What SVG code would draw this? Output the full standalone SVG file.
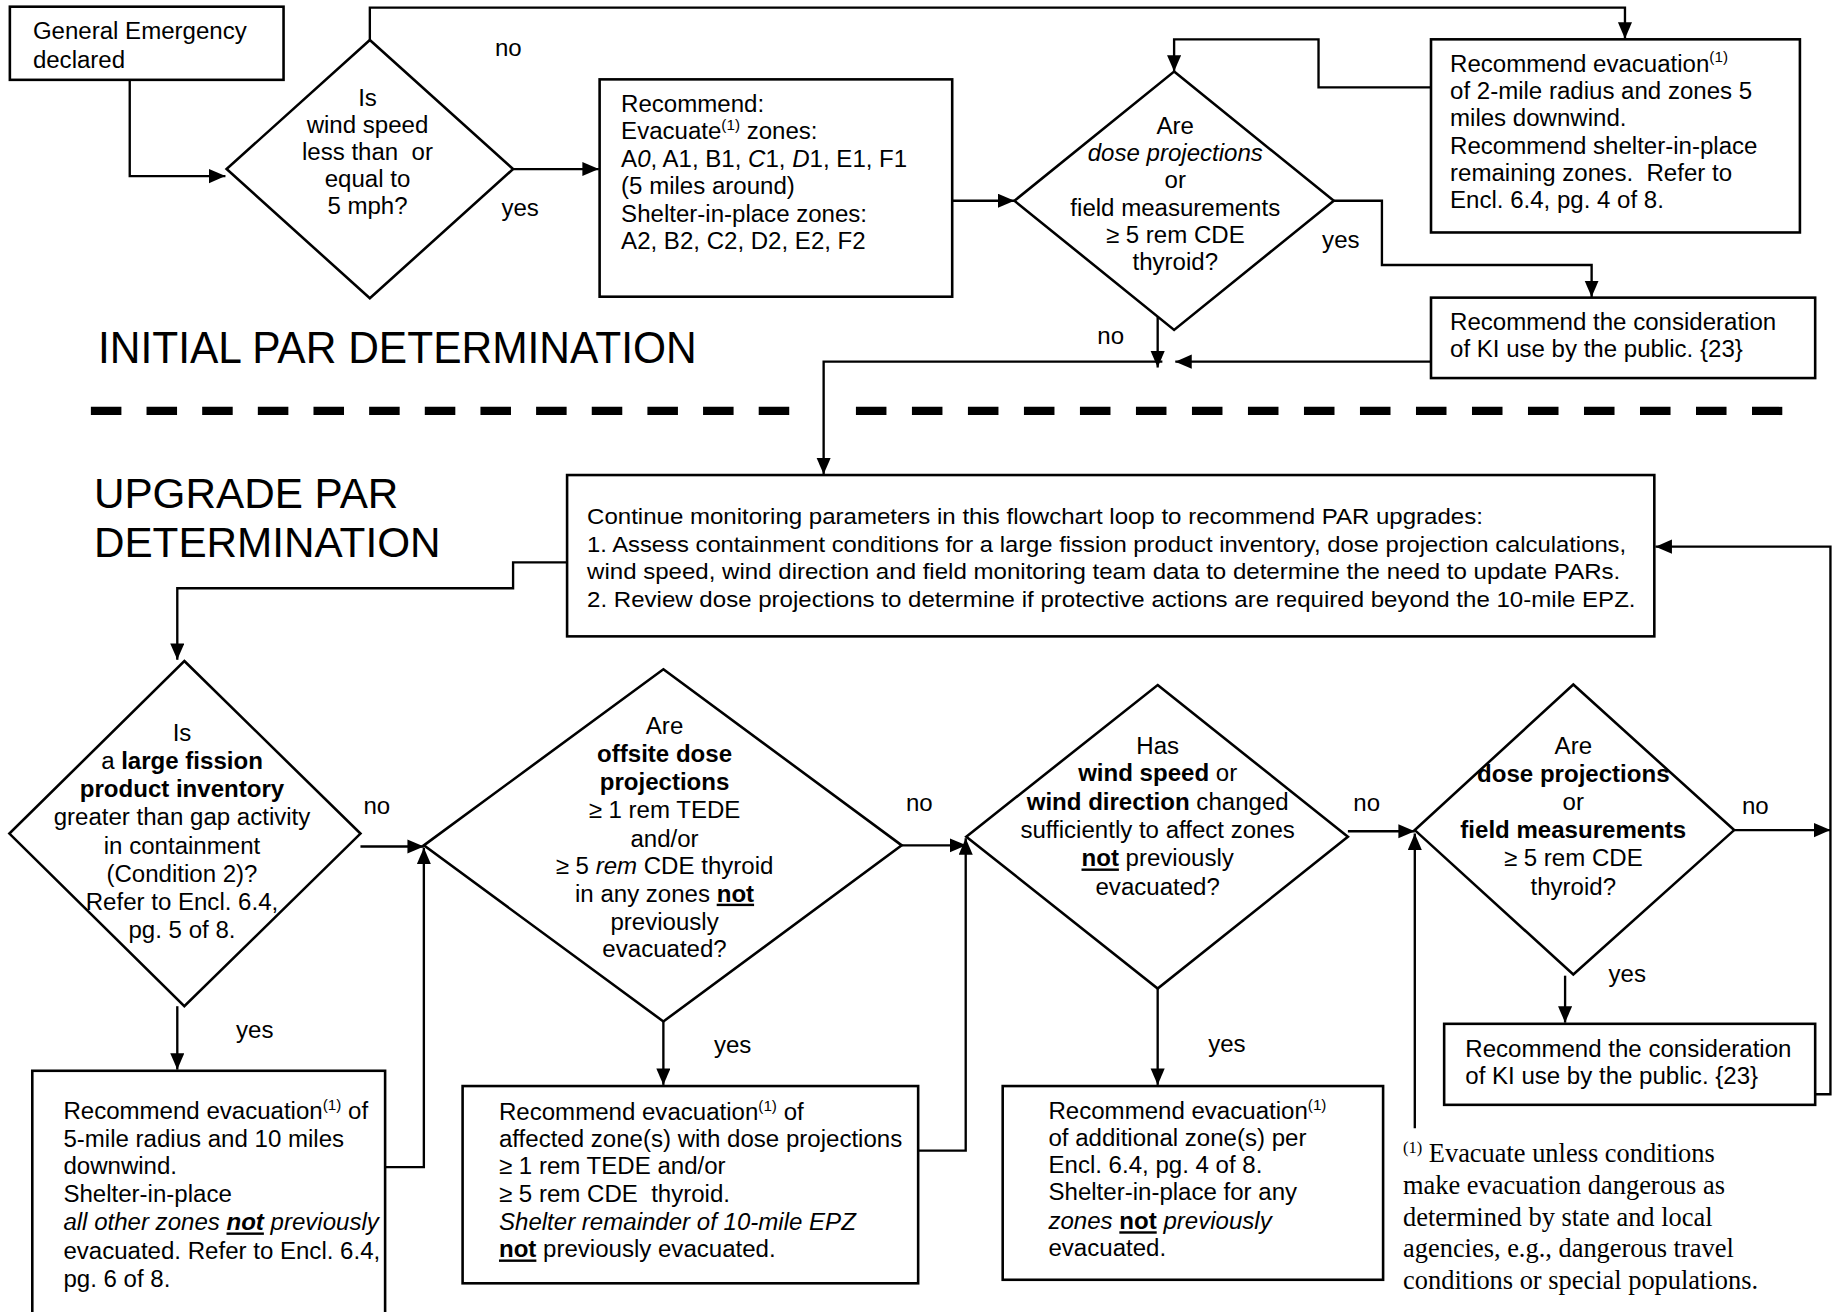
<svg xmlns="http://www.w3.org/2000/svg" width="1841" height="1312" viewBox="0 0 1841 1312">
<style>
text{font-family:"Liberation Sans",Arial,Helvetica,sans-serif;font-size:20.5px;fill:#000}
.h{font-size:36px}
.ct{font-size:18.5px}
.fn{font-family:"Liberation Serif","Times New Roman",serif;font-size:22.5px}
.m{text-anchor:middle}
.bx{fill:#fff;stroke:#000;stroke-width:2.2}
.cn{fill:none;stroke:#000;stroke-width:2;marker-end:url(#ar)}
.dash{fill:none;stroke:#000;stroke-width:7}
.b{font-weight:bold}
.i{font-style:italic}
.u{text-decoration:underline}
.sup{font-size:13px}
</style>
<defs>
<marker id="ar" markerUnits="userSpaceOnUse" markerWidth="16" markerHeight="14" refX="14" refY="6" orient="auto"><path d="M0,0 L14,6 L0,12 z" fill="#000"/></marker>
</defs>
<rect width="1841" height="1312" fill="#fff"/>
<g transform="scale(1.17411)">
<g id="connectors">
<path class="cn" d="M110.5,68 V150 H192"/>
<path class="cn" d="M315,34 V6.5 H1384 V33"/>
<path class="cn" d="M437,144 H510"/>
<path class="cn" d="M811,171 H864"/>
<path class="cn" d="M1219,74.4 H1123 V33.5 H1000 V61"/>
<path class="cn" d="M1136,171 H1177 V225.7 H1355.6 V253"/>
<path class="cn" d="M986,270 V313"/>
<path class="cn" d="M1219,308 H1001"/>
<path class="cn" d="M990,308 H701.5 V404"/>
<path class="cn" d="M483,479 H437 V501 H151 V562"/>
<path class="cn" d="M307,721 H361"/>
<path class="cn" d="M151,857 V911"/>
<path class="cn" d="M328,994 H361 V722"/>
<path class="cn" d="M768,720 H823"/>
<path class="cn" d="M565,870 V924"/>
<path class="cn" d="M782,980 H822.5 V714"/>
<path class="cn" d="M1148,708 H1205"/>
<path class="cn" d="M986,842 V924"/>
<path class="cn" d="M1205,961 V710"/>
<path class="cn" d="M1477,707 H1559"/>
<path class="cn" d="M1333,831 V871"/>
<path class="cn" d="M1546,932 H1559 V465.6 H1410"/>
</g>
<g id="separator">
<line class="dash" x1="77.4" y1="350" x2="672.2" y2="350" stroke-dasharray="26 21.4"/>
<line class="dash" x1="729" y1="350" x2="1518" y2="350" stroke-dasharray="26 21.7"/>
</g>
<g id="headings">
<text class="h" x="83.4" y="309.5" font-size="38" style="font-size:38px" textLength="510" lengthAdjust="spacingAndGlyphs">INITIAL PAR DETERMINATION</text>
<text class="h" x="80" y="433">UPGRADE PAR</text>
<text class="h" x="80" y="474">DETERMINATION</text>
</g>
<g id="labels">
<text class="m" x="433" y="48">no</text>
<text class="m" x="443" y="184">yes</text>
<text class="m" x="946" y="293">no</text>
<text class="m" x="1142" y="211">yes</text>
<text class="m" x="321" y="693">no</text>
<text class="m" x="217" y="884">yes</text>
<text class="m" x="783" y="691">no</text>
<text class="m" x="624" y="897">yes</text>
<text class="m" x="1164" y="691">no</text>
<text class="m" x="1045" y="896">yes</text>
<text class="m" x="1495" y="693">no</text>
<text class="m" x="1386" y="836">yes</text>
</g>
<g id="n-general-emergency">
<rect class="bx" x="8.4" y="5.7" width="233.1" height="62.3"/>
<text x="28" y="33.5">General Emergency</text>
<text x="28" y="57.6">declared</text>
</g>
<g id="n-wind-speed">
<polygon class="bx" points="315,34 437,144 315,254 193,144"/>
<text class="m" x="313" y="90.5">Is</text>
<text class="m" x="313" y="113.5">wind speed</text>
<text class="m" x="313" y="136.5" xml:space="preserve">less than  or</text>
<text class="m" x="313" y="159.5">equal to</text>
<text class="m" x="313" y="182.5">5 mph?</text>
</g>
<g id="n-recommend-initial">
<rect class="bx" x="510.7" y="67.6" width="300.3" height="185.1"/>
<text x="529" y="95">Recommend:</text>
<text x="529" y="118.5">Evacuate<tspan class="sup" dy="-8">(1)</tspan><tspan dy="8"> zones:</tspan></text>
<text x="529" y="142">A<tspan class="i">0</tspan>, A1, B1, <tspan class="i">C</tspan>1, <tspan class="i">D</tspan>1, E1, F1</text>
<text x="529" y="165.5">(5 miles around)</text>
<text x="529" y="189">Shelter-in-place zones:</text>
<text x="529" y="212.5">A2, B2, C2, D2, E2, F2</text>
</g>
<g id="n-dose-initial">
<polygon class="bx" points="1000,61 1136,171 1000,281 864,171"/>
<text class="m" x="1001" y="114">Are</text>
<text class="m i" x="1001" y="137.2">dose projections</text>
<text class="m" x="1001" y="160.4">or</text>
<text class="m" x="1001" y="183.6">field measurements</text>
<text class="m" x="1001" y="206.8">≥ 5 rem CDE</text>
<text class="m" x="1001" y="230">thyroid?</text>
</g>
<g id="n-evac-2mile">
<rect class="bx" x="1218.8" y="33.5" width="314.2" height="164.5"/>
<text x="1235" y="61">Recommend evacuation<tspan class="sup" dy="-8">(1)</tspan></text>
<text x="1235" y="84.3">of 2-mile radius and zones 5</text>
<text x="1235" y="107.6">miles downwind.</text>
<text x="1235" y="130.9">Recommend shelter-in-place</text>
<text x="1235" y="154.2" xml:space="preserve">remaining zones.  Refer to</text>
<text x="1235" y="177.5">Encl. 6.4, pg. 4 of 8.</text>
</g>
<g id="n-ki-initial">
<rect class="bx" x="1218.8" y="253.5" width="327.2" height="68.5"/>
<text x="1235" y="281">Recommend the consideration</text>
<text x="1235" y="304.3">of KI use by the public. {23}</text>
</g>
<g id="n-continue">
<rect class="bx" x="483" y="404.6" width="926" height="137.4"/>
<text class="ct" x="500" y="446" textLength="763" lengthAdjust="spacingAndGlyphs">Continue monitoring parameters in this flowchart loop to recommend PAR upgrades:</text>
<text class="ct" x="500" y="470" textLength="885" lengthAdjust="spacingAndGlyphs">1. Assess containment conditions for a large fission product inventory, dose projection calculations,</text>
<text class="ct" x="500" y="493.5" textLength="880" lengthAdjust="spacingAndGlyphs">wind speed, wind direction and field monitoring team data to determine the need to update PARs.</text>
<text class="ct" x="500" y="517" textLength="893" lengthAdjust="spacingAndGlyphs">2. Review dose projections to determine if protective actions are required beyond the 10-mile EPZ.</text>
</g>
<g id="n-fission">
<polygon class="bx" points="157,563 307,710 157,857 8,710"/>
<text class="m" x="155" y="631">Is</text>
<text class="m" x="155" y="655">a <tspan class="b">large fission</tspan></text>
<text class="m b" x="155" y="679">product inventory</text>
<text class="m" x="155" y="703">greater than gap activity</text>
<text class="m" x="155" y="727">in containment</text>
<text class="m" x="155" y="751">(Condition 2)?</text>
<text class="m" x="155" y="775">Refer to Encl. 6.4,</text>
<text class="m" x="155" y="799">pg. 5 of 8.</text>
</g>
<g id="n-evac-5mile">
<rect class="bx" x="27.5" y="912" width="300.5" height="230"/>
<text x="54" y="953">Recommend evacuation<tspan class="sup" dy="-8">(1)</tspan><tspan dy="8"> of</tspan></text>
<text x="54" y="977">5-mile radius and 10 miles</text>
<text x="54" y="1000">downwind.</text>
<text x="54" y="1024">Shelter-in-place</text>
<text x="54" y="1048"><tspan class="i">all other zones </tspan><tspan class="i b u">not</tspan><tspan class="i"> previously</tspan></text>
<text x="54" y="1072">evacuated. Refer to Encl. 6.4,</text>
<text x="54" y="1096">pg. 6 of 8.</text>
</g>
<g id="n-offsite-dose">
<polygon class="bx" points="565,570 768,720 565,870 361,720"/>
<text class="m" x="566" y="625">Are</text>
<text class="m b" x="566" y="649">offsite dose</text>
<text class="m b" x="566" y="672.5">projections</text>
<text class="m" x="566" y="697">≥ 1 rem TEDE</text>
<text class="m" x="566" y="721">and/or</text>
<text class="m" x="566" y="744">≥ 5 <tspan class="i">rem</tspan> CDE thyroid</text>
<text class="m" x="566" y="768">in any zones <tspan class="b u">not</tspan></text>
<text class="m" x="566" y="792">previously</text>
<text class="m" x="566" y="815">evacuated?</text>
</g>
<g id="n-evac-affected">
<rect class="bx" x="394" y="925" width="388" height="168"/>
<text x="425" y="954">Recommend evacuation<tspan class="sup" dy="-8">(1)</tspan><tspan dy="8"> of</tspan></text>
<text x="425" y="977">affected zone(s) with dose projections</text>
<text x="425" y="1000">≥ 1 rem TEDE and/or</text>
<text x="425" y="1024" xml:space="preserve">≥ 5 rem CDE  thyroid.</text>
<text class="i" x="425" y="1048">Shelter remainder of 10-mile EPZ</text>
<text x="425" y="1071"><tspan class="b u">not</tspan> previously evacuated.</text>
</g>
<g id="n-wind-changed">
<polygon class="bx" points="986,583.5 1148,712.6 986,842 823,712.6"/>
<text class="m" x="986" y="642">Has</text>
<text class="m" x="986" y="665"><tspan class="b">wind speed</tspan> or</text>
<text class="m" x="986" y="690"><tspan class="b">wind direction</tspan> changed</text>
<text class="m" x="986" y="714">sufficiently to affect zones</text>
<text class="m" x="986" y="738"><tspan class="b u">not</tspan> previously</text>
<text class="m" x="986" y="762">evacuated?</text>
</g>
<g id="n-evac-additional">
<rect class="bx" x="854" y="925" width="324" height="165"/>
<text x="893" y="953">Recommend evacuation<tspan class="sup" dy="-8">(1)</tspan></text>
<text x="893" y="976">of additional zone(s) per</text>
<text x="893" y="999">Encl. 6.4, pg. 4 of 8.</text>
<text x="893" y="1022">Shelter-in-place for any</text>
<text x="893" y="1047"><tspan class="i">zones </tspan><tspan class="b u">not</tspan><tspan class="i"> previously</tspan></text>
<text x="893" y="1070">evacuated.</text>
</g>
<g id="n-dose-upgrade">
<polygon class="bx" points="1340,583 1477,707 1340,830 1205,707"/>
<text class="m" x="1340" y="642">Are</text>
<text class="m b" x="1340" y="666">dose projections</text>
<text class="m" x="1340" y="690">or</text>
<text class="m b" x="1340" y="714">field measurements</text>
<text class="m" x="1340" y="738">≥ 5 rem CDE</text>
<text class="m" x="1340" y="762">thyroid?</text>
</g>
<g id="n-ki-upgrade">
<rect class="bx" x="1230" y="872" width="316" height="69"/>
<text x="1248" y="900">Recommend the consideration</text>
<text x="1248" y="923">of KI use by the public. {23}</text>
</g>
<g id="footnote">
<text class="fn" x="1195" y="990"><tspan font-size="14" dy="-8">(1)</tspan><tspan dy="8"> Evacuate unless conditions</tspan></text>
<text class="fn" x="1195" y="1017">make evacuation dangerous as</text>
<text class="fn" x="1195" y="1044">determined by state and local</text>
<text class="fn" x="1195" y="1071">agencies, e.g., dangerous travel</text>
<text class="fn" x="1195" y="1098">conditions or special populations.</text>
</g>
</g>
</svg>
